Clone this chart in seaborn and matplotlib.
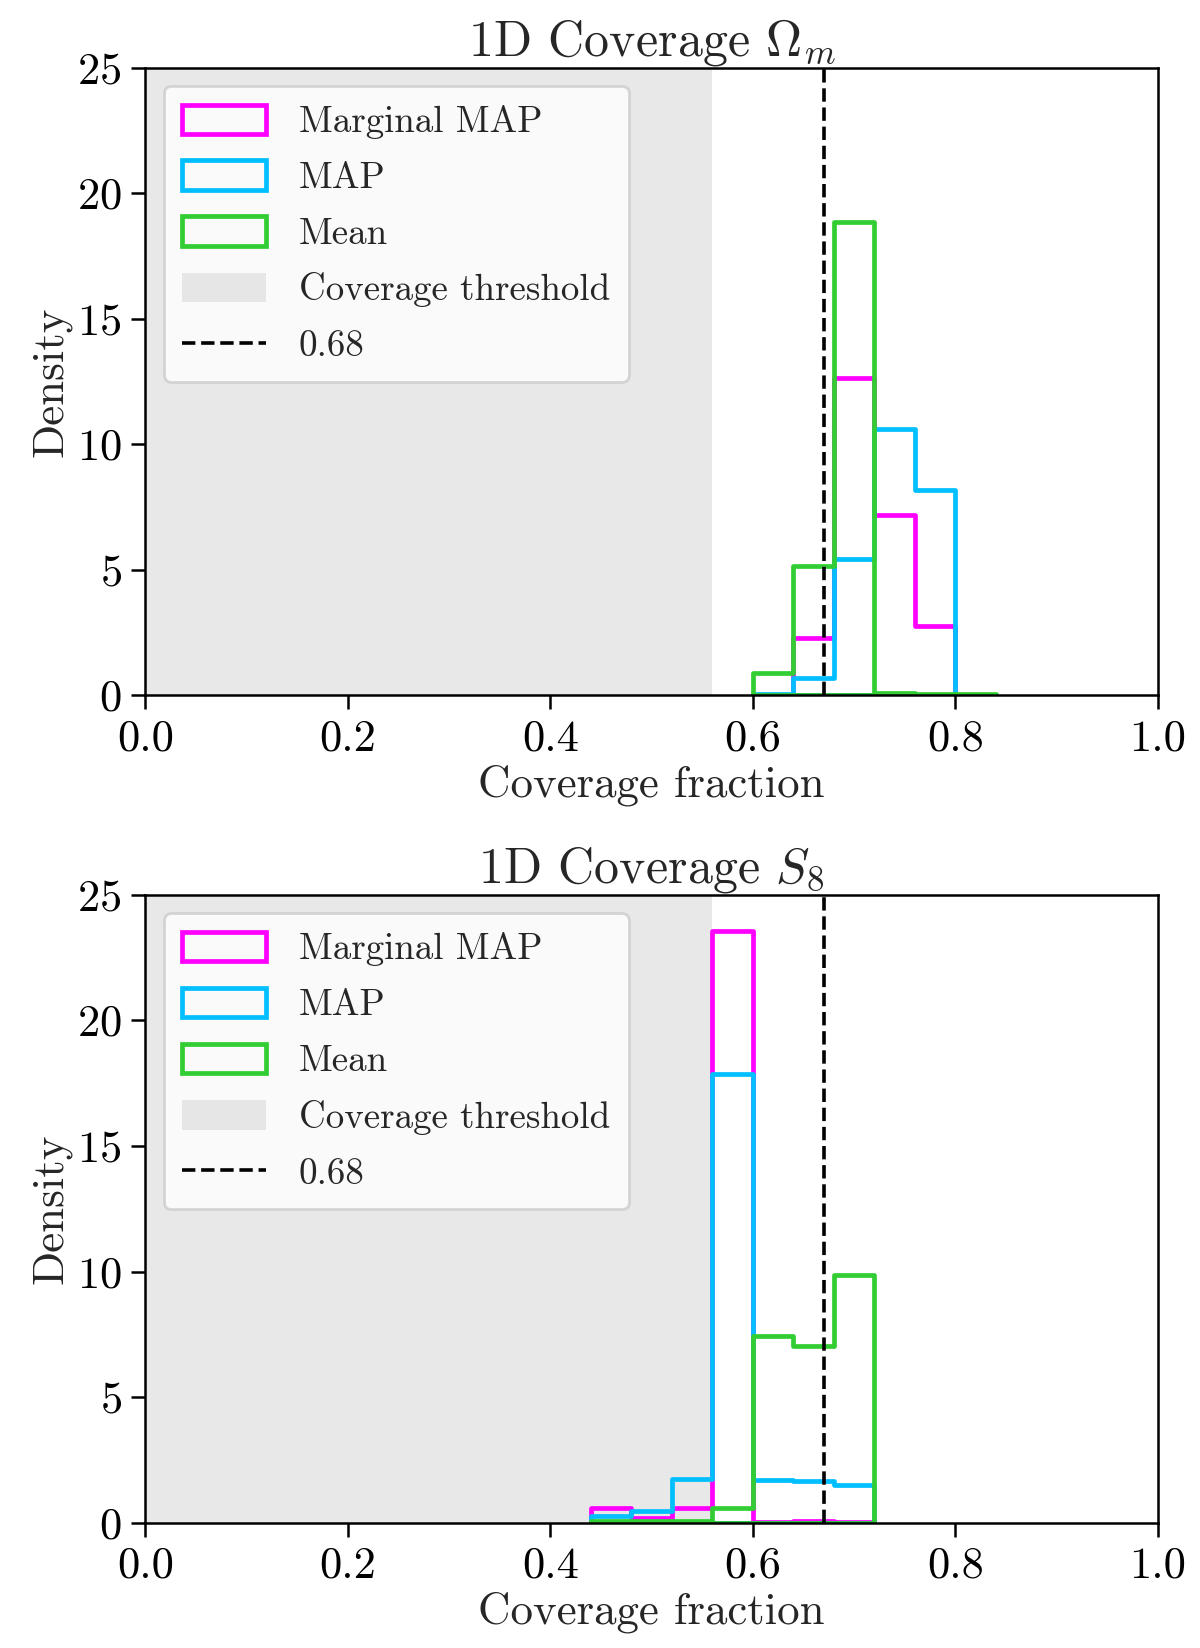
import numpy as np
import pandas as pd
import matplotlib
matplotlib.use("Agg")
import matplotlib.pyplot as plt
from matplotlib.patches import Patch
from matplotlib.lines import Line2D
import seaborn as sns

# ---- data ----
bin_width = 0.04
top_bin_left = [0.60, 0.64, 0.68, 0.72, 0.76, 0.80]
top_marginal_map = [0.0, 2.3, 12.65, 7.2, 2.75, 0.0]
top_map = [0.05, 0.7, 5.45, 10.6, 8.2, 0.0]
top_mean = [0.88, 5.15, 18.85, 0.1, 0.05, 0.05]

bot_bin_left = [0.44, 0.48, 0.52, 0.56, 0.60, 0.64, 0.68]
bot_marginal_map = [0.6, 0.2, 0.6, 23.55, 0.04, 0.07, 0.04]
bot_map = [0.25, 0.45, 1.73, 17.85, 1.7, 1.66, 1.52]
bot_mean = [0.07, 0.07, 0.07, 0.57, 7.45, 7.05, 9.85]

threshold_max = 0.56
ref_line = 0.67
ref_label = "0.68"
series_names = ["Marginal MAP", "MAP", "Mean"]
series_colors = ["#ff00ff", "#00bfff", "#32cd32"]
titles = [r"1D Coverage $\Omega_m$", r"1D Coverage $S_8$"]

# ---- style ----
sns.set_style("ticks")
plt.rcParams["font.family"] = ["cmr10", "DejaVu Serif"]
plt.rcParams["mathtext.fontset"] = "cm"
plt.rcParams["axes.formatter.use_mathtext"] = True
plt.rcParams["axes.unicode_minus"] = False
plt.rcParams["xtick.color"] = "black"
plt.rcParams["ytick.color"] = "black"
plt.rcParams["axes.edgecolor"] = "black"

fig = plt.figure(figsize=(6, 8.24), dpi=200)
ax1 = fig.add_axes([0.121, 0.578, 0.844, 0.381])
ax2 = fig.add_axes([0.121, 0.076, 0.844, 0.381])

panels = [
    (ax1, top_bin_left, [top_marginal_map, top_map, top_mean]),
    (ax2, bot_bin_left, [bot_marginal_map, bot_map, bot_mean]),
]

for (ax, left, series), title in zip(panels, titles):
    left = np.asarray(left)
    nbins = len(left)
    lo, hi = float(left[0]), float(left[-1] + bin_width)
    centers = left + bin_width / 2
    ax.axvspan(0, threshold_max, color="lightgray", alpha=0.5, lw=0, zorder=0)
    for name, vals, col in zip(series_names, series, series_colors):
        df = pd.DataFrame({"x": centers, "w": vals})
        sns.histplot(data=df, x="x", weights="w", bins=nbins,
                     binrange=(lo, hi), stat="count",
                     element="step", fill=True, facecolor="none",
                     edgecolor=col, color=col, linewidth=1.7, alpha=0.85,
                     ax=ax)
    ax.axvline(ref_line, color="black", ls="--", lw=1.3, zorder=3)
    ax.set_xlim(0, 1)
    ax.set_ylim(0, 25)
    ax.set_xticks([0.0, 0.2, 0.4, 0.6, 0.8, 1.0])
    ax.set_xticklabels(["0.0", "0.2", "0.4", "0.6", "0.8", "1.0"])
    ax.set_yticks([0, 5, 10, 15, 20, 25])
    ax.tick_params(labelsize=16, length=5, width=0.9, direction="out")
    for s in ax.spines.values():
        s.set_linewidth(0.9)
        s.set_visible(True)
    ax.set_xlabel("Coverage fraction", fontsize=16.2, labelpad=2)
    ax.set_ylabel("Density", fontsize=16.2, labelpad=2)
    ax.set_title(title, fontsize=18, pad=4)

    handles = [Patch(facecolor="none", edgecolor=c, linewidth=1.7)
               for c in series_colors]
    handles.append(Patch(facecolor="lightgray", alpha=0.5, edgecolor="none"))
    handles.append(Line2D([0], [0], color="black", ls="--", lw=1.3))
    labels = series_names + ["Coverage threshold", ref_label]
    ax.legend(handles, labels, loc="upper left", fontsize=13.3,
              frameon=True, framealpha=0.8, handlelength=2.26,
              handleheight=0.85, labelspacing=0.58, borderpad=0.5,
              handletextpad=0.9)

fig.savefig("out.png", dpi=200)
